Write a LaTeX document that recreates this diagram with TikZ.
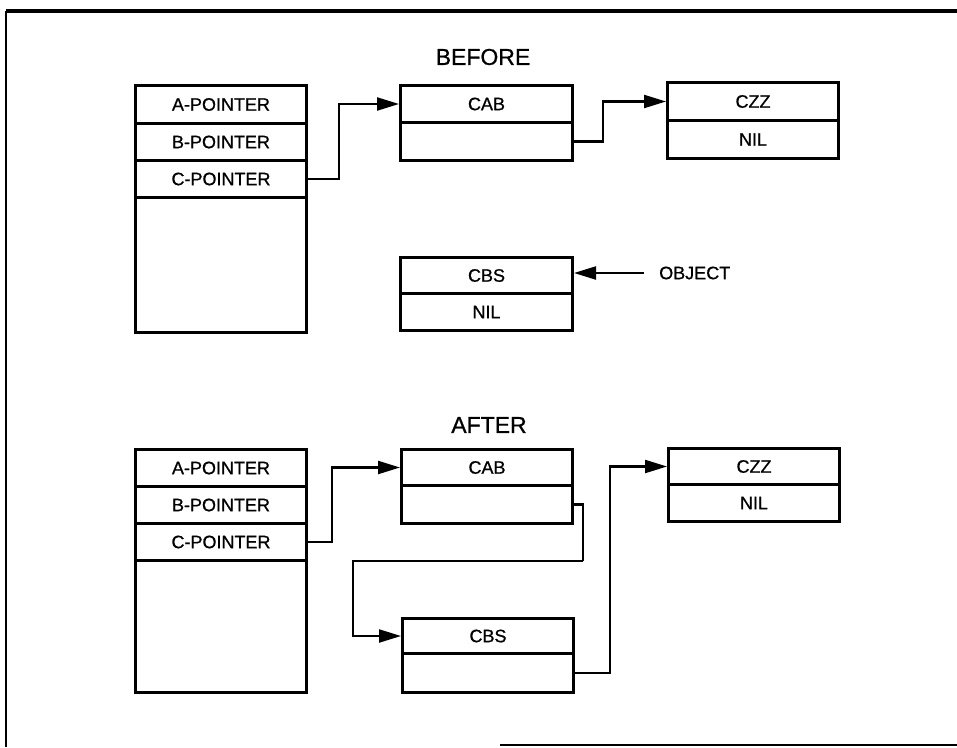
\documentclass[tikz,border=0pt]{standalone}
\usepackage{fontspec}
\setmainfont{Liberation Sans}
\newfontfamily\labfont[FakeBold=0.8]{Liberation Sans}
\usetikzlibrary{arrows.meta}
\begin{document}
\begin{tikzpicture}[x=1pt,y=-1pt,
  cell/.style={draw,line width=3pt,anchor=north west,inner sep=0pt,
    minimum width=171pt,font=\labfont\fontsize{18}{18}\selectfont},
  ttl/.style={font=\labfont\fontsize{23}{23}\selectfont,inner sep=0pt},
  arr/.style={line width=2.2pt,line join=miter,-{Triangle[length=22pt,width=13pt]}},
  lnk/.style={line width=2.2pt,line join=miter},
  frm/.style={line width=2.4pt}]
\useasboundingbox (0,0) rectangle (957,747);
% frame
\coordinate (f1) at (6,11);
\coordinate (f2) at (957,11);
\coordinate (f3) at (6,747);
\coordinate (f4) at (500,745);
\coordinate (f5) at (957,745);
\draw[line width=3.6pt] (f1) -- (f2);
\draw[frm] (f1) -- (f3);
\draw[frm] (f4) -- (f5);
% BEFORE
\node[ttl] (tb) at (483,57) {BEFORE};
\node[cell,minimum height=38pt] (ba) at (134,84) {A-POINTER};
\node[cell,minimum height=37pt] (bb) at (134,122) {B-POINTER};
\node[cell,minimum height=37pt] (bc) at (134,159) {C-POINTER};
\node[cell,minimum height=135pt] (bd) at (134,196) {};
\node[cell,minimum height=37pt,minimum width=172pt] (bcab1) at (399,84) {CAB};
\node[cell,minimum height=38pt,minimum width=172pt] (bcab2) at (399,121) {};
\node[cell,minimum height=38pt] (bczz1) at (666,81) {CZZ};
\node[cell,minimum height=38pt] (bczz2) at (666,119) {NIL};
\node[cell,minimum height=36pt,minimum width=172pt] (bcbs1) at (399,256) {CBS};
\node[cell,minimum height=37pt,minimum width=172pt] (bcbs2) at (399,292) {NIL};
\node[anchor=west,inner xsep=15pt,inner ysep=0pt,font=\labfont\fontsize{18}{18}\selectfont] (obj) at (644,273) {OBJECT};
\coordinate (b1) at (339,140);
\coordinate (b2) at (603,120);
\draw[lnk] (bc.east) -| (b1);
\draw[arr] (b1) |- (bcab1.west);
\draw[lnk] (bcab2.east) -| (b2);
\draw[arr] (b2) |- (bczz1.west);
\draw[arr] (obj.west) -- (obj.west -| bcbs1.east);
% AFTER
\node[ttl] (ta) at (489,425) {AFTER};
\node[cell,minimum height=37pt] (aa) at (134,448) {A-POINTER};
\node[cell,minimum height=37pt] (ab) at (134,485) {B-POINTER};
\node[cell,minimum height=37pt] (ac) at (134,522) {C-POINTER};
\node[cell,minimum height=132pt] (ad) at (134,559) {};
\node[cell,minimum height=36pt] (acab1) at (400,448) {CAB};
\node[cell,minimum height=38pt] (acab2) at (400,484) {};
\node[cell,minimum height=36pt] (aczz1) at (667,447) {CZZ};
\node[cell,minimum height=37pt] (aczz2) at (667,483) {NIL};
\node[cell,minimum height=35pt] (acbs1) at (401,617) {CBS};
\node[cell,minimum height=39pt] (acbs2) at (401,652) {};
\coordinate (k1) at (583,561);
\coordinate (k2) at (353,561);
\draw[arr] (ac.east) -- ++(24,0) |- (acab1.west);
\draw[lnk] (acab2.east) -| (k1);
\draw[arr] (k1) -- (k2) |- (acbs1.west);
\draw[arr] (acbs2.east) -- ++(35,0) |- (aczz1.west);
\end{tikzpicture}
\end{document}
